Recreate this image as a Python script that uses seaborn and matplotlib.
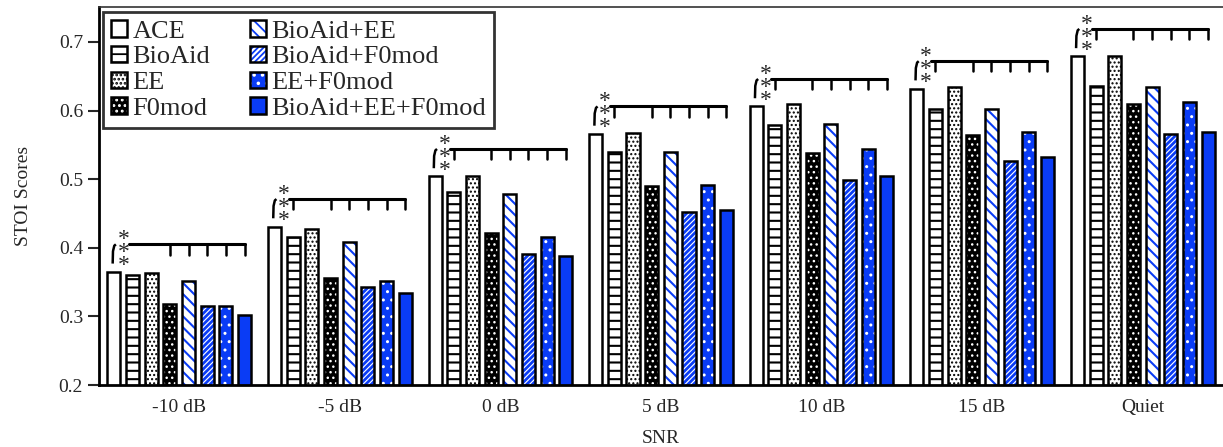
import numpy as np
import pandas as pd
import matplotlib.pyplot as plt
import seaborn as sns
from matplotlib.patches import Rectangle, Patch
from matplotlib.legend_handler import HandlerTuple

sns.set_style("white")
plt.rcParams["font.family"] = ["Liberation Serif", "DejaVu Serif"]
plt.rcParams["hatch.linewidth"] = 1.3

# ==========================
# DATA
# ==========================
snr = ["-10 dB", "-5 dB", "0 dB", "5 dB", "10 dB", "15 dB", "Quiet"]
methods = ["ACE", "BioAid", "EE", "F0mod", "BioAid+EE", "BioAid+F0mod",
           "EE+F0mod", "BioAid+EE+F0mod"]

ace = [0.365, 0.431, 0.504, 0.566, 0.606, 0.632, 0.679]
bioaid = [0.360, 0.416, 0.481, 0.539, 0.579, 0.603, 0.636]
ee = [0.363, 0.427, 0.505, 0.568, 0.610, 0.635, 0.680]
f0mod = [0.318, 0.356, 0.421, 0.490, 0.538, 0.564, 0.609]
bioaid_ee = [0.351, 0.409, 0.479, 0.539, 0.580, 0.603, 0.635]
bioaid_f0mod = [0.315, 0.343, 0.391, 0.452, 0.499, 0.527, 0.566]
ee_f0mod = [0.315, 0.352, 0.416, 0.491, 0.544, 0.569, 0.613]
bioaid_ee_f0mod = [0.302, 0.334, 0.388, 0.455, 0.504, 0.533, 0.569]

# bars marked as significantly different from ACE (***), per SNR
sig_all = ["BioAid", "F0mod", "BioAid+EE", "BioAid+F0mod", "EE+F0mod", "BioAid+EE+F0mod"]
sig_bars = [sig_all[1:], sig_all, sig_all, sig_all, sig_all, sig_all, sig_all]

scores = [ace, bioaid, ee, f0mod, bioaid_ee, bioaid_f0mod, ee_f0mod, bioaid_ee_f0mod]
df = pd.DataFrame({
    "SNR": snr * len(methods),
    "method": np.repeat(methods, len(snr)),
    "score": np.concatenate(scores),
})

BLUE = "#0a3cf5"
# face colour, hatch, hatch colour, hatch width
styles = {
    "ACE": ("white", "", "white", 1.0),
    "BioAid": ("white", "--", "black", 1.5),
    "EE": ("white", "....", "black", 1.0),
    "F0mod": ("black", "...", "white", 1.0),
    "BioAid+EE": ("white", "\\\\\\", BLUE, 1.5),
    "BioAid+F0mod": ("white", "//////", BLUE, 2.0),
    "EE+F0mod": (BLUE, "..", "white", 1.0),
    "BioAid+EE+F0mod": (BLUE, "", BLUE, 1.0),
}

# ==========================
# PLOT
# ==========================
fig = plt.figure(figsize=(12.23, 4.47), dpi=100)
ax = fig.add_axes([99 / 1223, 62 / 447, 1124 / 1223, 378 / 447])

sns.barplot(data=df, x="SNR", y="score", hue="method", order=snr,
            hue_order=methods, width=0.93, gap=0.3, palette=["white"] * 8,
            edgecolor="black", linewidth=1.8, legend=False, ax=ax)


def style_patch(p, m):
    face, hatch, hc, hw = styles[m]
    p.set_facecolor(face)
    p.set_hatch(hatch)
    p.set_edgecolor(hc)
    p.set_linewidth(0)
    if hasattr(p, "set_hatch_linewidth"):
        p.set_hatch_linewidth(hw)


centers = {}
for m, cont in zip(methods, ax.containers):
    centers[m] = []
    for bar in cont:
        style_patch(bar, m)
        ax.add_patch(Rectangle(bar.get_xy(), bar.get_width(), bar.get_height(),
                               fill=False, edgecolor="black", linewidth=1.8, zorder=3))
        centers[m].append(bar.get_x() + bar.get_width() / 2)

# significance brackets
for i in range(len(snr)):
    x0 = centers["ACE"][i]
    x1 = centers["BioAid"][i]
    xe = centers["BioAid+EE+F0mod"][i]
    yl = ace[i] + 0.040
    ax.plot([x0 - 0.008, x0 - 0.006, x0 + 0.002, x0 + 0.012],
            [ace[i] + 0.012, yl - 0.010, yl - 0.002, yl],
            color="black", lw=1.8, solid_capstyle="butt", zorder=4)
    ax.plot([x1 - 0.025, xe], [yl, yl], color="black", lw=2.2, zorder=4)
    for m in sig_bars[i]:
        xc = centers[m][i]
        ax.plot([xc, xc], [yl, yl - 0.015], color="black", lw=1.8, zorder=4)
    xs = (x0 + x1) / 2
    ax.text(xs, yl - 0.012, "*\n*\n*", fontsize=17, ha="center", va="center",
            linespacing=0.5, zorder=5)

ax.set_ylim(0.2, 0.751)
ax.set_xlim(-0.5, len(snr) - 0.5)
ax.set_yticks([0.2, 0.3, 0.4, 0.5, 0.6, 0.7])
ax.set_yticklabels(["0.2", "0.3", "0.4", "0.5", "0.6", "0.7"])
ax.tick_params(axis="y", length=8, width=1.5, labelsize=14, direction="out", left=True)
ax.tick_params(axis="x", length=0, labelsize=14, pad=10)
ax.set_xlabel("SNR", fontsize=14, labelpad=10)
ax.set_ylabel("STOI Scores", fontsize=14, labelpad=19)

for s in ["left", "bottom"]:
    ax.spines[s].set_color("black")
    ax.spines[s].set_linewidth(2)
ax.spines["top"].set_color("#333333")
ax.spines["top"].set_linewidth(1.2)
ax.spines["right"].set_visible(False)

# legend
handles = []
for m in methods:
    hp = Patch()
    style_patch(hp, m)
    handles.append((hp, Patch(fill=False, edgecolor="black", linewidth=1.8)))
leg = ax.legend(handles, methods, handler_map={tuple: HandlerTuple(ndivide=1)},
                loc="upper left", bbox_to_anchor=(0.004, 0.987), borderaxespad=0,
                ncol=2, fontsize=19, handlelength=0.6, handleheight=0.6,
                handletextpad=0.2, labelspacing=0.12, columnspacing=1.5,
                borderpad=0.3, fancybox=False, frameon=True)
leg.get_frame().set_edgecolor("black")
leg.get_frame().set_linewidth(2)

fig.savefig("out.png", dpi=100)
